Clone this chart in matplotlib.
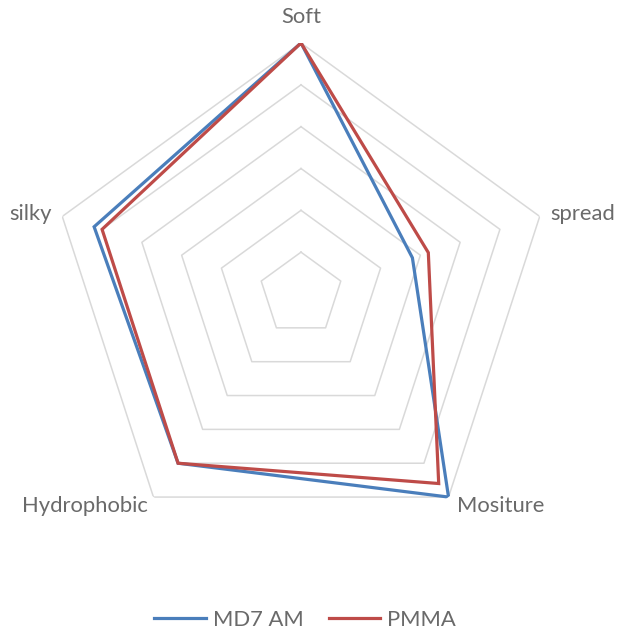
import numpy as np
import matplotlib
matplotlib.use("Agg")
import matplotlib.pyplot as plt

# Sensory attributes and panel scores
categories = ["Soft", "spread", "Mositure", "Hydrophobic", "silky"]
md7_am = [6.0, 2.8, 6.0, 5.0, 5.2]
pmma = [6.0, 3.2, 5.6, 5.0, 5.0]
ring_levels = [1, 2, 3, 4, 5, 6]
series_names = ["MD7 AM", "PMMA"]

text_color = "#6A6A6A"
grid_color = "#D9D9D9"
colors = ["#4A7EBB", "#BE4B48"]
font = "Lato"
fsize = 15.8

fig = plt.figure(figsize=(6.2, 6.32), dpi=100)
ax = fig.add_axes([50 / 620, 87 / 632, 502 / 620, 502 / 632], projection="polar")
ax.set_theta_offset(np.pi / 2)
ax.set_theta_direction(-1)

n = len(categories)
angles = np.linspace(0, 2 * np.pi, n, endpoint=False)
closed = np.concatenate([angles, angles[:1]])

# pentagonal gridlines
for lvl in ring_levels:
    ax.plot(closed, [lvl] * (n + 1), color=grid_color, lw=1.1, zorder=1)

for vals, name, c in zip([md7_am, pmma], series_names, colors):
    ax.plot(closed, list(vals) + [vals[0]], color=c, lw=2.3, label=name,
            zorder=3, solid_joinstyle="miter")

ax.set_ylim(0, max(ring_levels))
ax.grid(False)
ax.spines["polar"].set_visible(False)
ax.set_xticks([])
ax.set_yticks([])
ax.patch.set_alpha(0)

# category labels next to the outer ring vertices
label_style = {
    "Soft": ((0, 26), "center", "center"),
    "spread": ((11, 2), "left", "center"),
    "Mositure": ((8, -9), "left", "center"),
    "Hydrophobic": ((-6, -9), "right", "center"),
    "silky": ((-10, 2), "right", "center"),
}
for ang, cat in zip(angles, categories):
    off, ha, va = label_style[cat]
    ax.annotate(cat, xy=(ang, max(ring_levels)), xytext=off,
                textcoords="offset pixels", ha=ha, va=va,
                fontsize=fsize, color=text_color, family=font,
                annotation_clip=False)

leg = fig.legend(loc="center", bbox_to_anchor=(305 / 620, 1 - 620 / 632),
                 ncol=2, frameon=False, handlelength=2.35, handletextpad=0.3,
                 columnspacing=1.15, prop={"family": font, "size": fsize})
for t in leg.get_texts():
    t.set_color(text_color)

fig.savefig("out.png", dpi=100)
